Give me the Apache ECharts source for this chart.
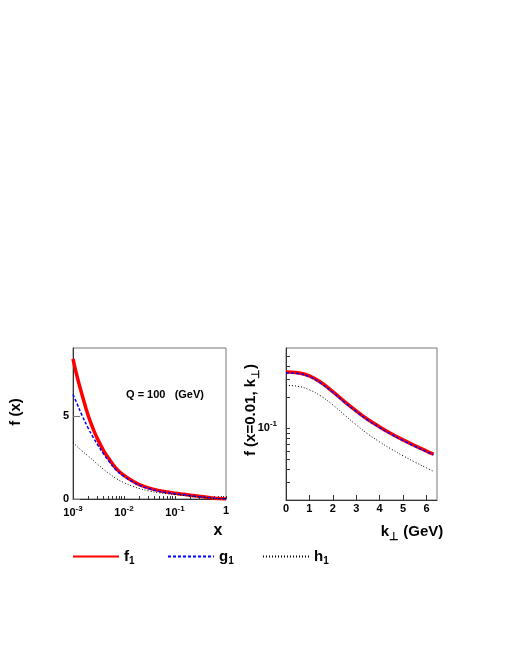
<!DOCTYPE html>
<html>
<head>
<meta charset="utf-8">
<script src="https://cdn.jsdelivr.net/npm/echarts@6/dist/echarts.min.js"></script>
<style>
  html, body { margin: 0; padding: 0; background: #fff; }
  #chart { width: 515px; height: 666px; }
</style>
</head>
<body>
<div id="chart"></div>
<script>
// left panel: f(x) at Q = 100 GeV, x on a log axis
const xValues = [0.001, 0.0012, 0.0015, 0.002, 0.0025, 0.003, 0.004, 0.005, 0.007, 0.01, 0.015, 0.02, 0.03, 0.05, 0.07, 0.1, 0.15, 0.2, 0.3, 0.5, 0.7, 1.0];
const f1x = [8.45, 7.4, 6.3, 5.0, 4.2, 3.65, 2.9, 2.45, 1.85, 1.42, 1.07, 0.87, 0.67, 0.5, 0.42, 0.35, 0.28, 0.23, 0.16, 0.08, 0.035, 0.0];
const g1x = [6.3, 5.75, 5.05, 4.25, 3.7, 3.3, 2.7, 2.3, 1.75, 1.36, 1.02, 0.83, 0.63, 0.46, 0.38, 0.32, 0.25, 0.2, 0.14, 0.07, 0.03, 0.0];
const h1x = [3.4, 3.17, 2.9, 2.58, 2.32, 2.1, 1.78, 1.55, 1.24, 0.98, 0.76, 0.63, 0.49, 0.37, 0.31, 0.26, 0.21, 0.17, 0.12, 0.06, 0.025, 0.0];

// right panel: f(x=0.01, kT) against kT in GeV
const ktValues = [0, 0.5, 1, 1.5, 2, 2.5, 3, 3.5, 4, 4.5, 5, 5.5, 6, 6.3];
const f1k = [0.35, 0.345, 0.322, 0.277, 0.226, 0.181, 0.147, 0.121, 0.1026, 0.0881, 0.0767, 0.0675, 0.0598, 0.0558];
const g1k = [0.344, 0.339, 0.316, 0.272, 0.222, 0.178, 0.1445, 0.119, 0.101, 0.0868, 0.0756, 0.0666, 0.059, 0.055];
const h1k = [0.26, 0.255, 0.2355, 0.204, 0.168, 0.134, 0.1074, 0.0877, 0.0733, 0.0624, 0.0537, 0.0468, 0.041, 0.038];

// ticks and tick labels
const leftXTicks = [0.001, 0.01, 0.1, 1];
const leftXTickLabels = ['10{sup|-3}', '10{sup|-2}', '10{sup|-1}', '1'];
const leftXMinor = [0.002, 0.003, 0.004, 0.005, 0.006, 0.007, 0.008, 0.009,
  0.02, 0.03, 0.04, 0.05, 0.06, 0.07, 0.08, 0.09,
  0.2, 0.3, 0.4, 0.5, 0.6, 0.7, 0.8, 0.9];
const leftYTicks = [0, 5];
const rightXTicks = [0, 1, 2, 3, 4, 5, 6];
const rightYTicks = [0.1];
const rightYTickLabels = ['10{sup|-1}'];
const rightYMinor = [0.03, 0.04, 0.05, 0.06, 0.07, 0.08, 0.09, 0.2, 0.3, 0.4, 0.5];

const legendNames = ['f1', 'g1', 'h1'];
const legendLabels = ['{m|f}{s|1}', '{m|g}{s|1}', '{m|h}{s|1}'];

const font = "'Liberation Sans', Arial, Helvetica, sans-serif";
const black = '#000';

const zip = (xs, ys) => xs.map((x, i) => [x, ys[i]]);
const sameLog = (a, b) => Math.abs(Math.log10(a) - Math.log10(b)) < 1e-6;

const labelRich = {
  sup: { fontSize: 8, fontWeight: 'bold', fontFamily: font, color: black, padding: [0, 0, 8, 0] }
};
const tickLabel = {
  color: black, fontSize: 11, fontWeight: 'bold', fontFamily: font, rich: labelRich
};
const frameLine = { show: true, lineStyle: { color: '#333', width: 1 } };

const line = (name, xs, ys, axis, color, width, dash) => ({
  name: name,
  type: 'line',
  xAxisIndex: axis,
  yAxisIndex: axis,
  data: zip(xs, ys),
  symbol: 'none',
  smooth: 0.4,
  silent: true,
  lineStyle: { color: color, width: width, type: dash },
  itemStyle: { color: color }
});

const legend = (i, left) => ({
  data: [legendNames[i]],
  left: left,
  top: 546,
  padding: 0,
  itemWidth: 46,
  itemHeight: 26,
  itemStyle: { opacity: 0 },
  selectedMode: false,
  formatter: () => legendLabels[i],
  textStyle: {
    rich: {
      m: { fontSize: 15, fontWeight: 'bold', fontFamily: font, color: black },
      s: { fontSize: 10, fontWeight: 'bold', fontFamily: font, color: black, padding: [10, 0, 0, 0] }
    }
  }
});

const chart = echarts.init(document.getElementById('chart'));

chart.setOption({
  animation: false,
  backgroundColor: '#fff',
  grid: [
    { left: 73, top: 348, width: 153, height: 151, show: true, borderColor: '#777', borderWidth: 1 },
    { left: 286, top: 348, width: 151, height: 152, show: true, borderColor: '#777', borderWidth: 1 }
  ],
  xAxis: [
    {
      type: 'log', gridIndex: 0, logBase: 10, min: 0.001, max: 1,
      axisLine: frameLine,
      axisTick: { show: true, inside: true, length: 3, customValues: leftXTicks.concat(leftXMinor), lineStyle: { color: '#333' } },
      axisLabel: Object.assign({}, tickLabel, {
        margin: 6,
        formatter: v => {
          const i = leftXTicks.findIndex(t => sameLog(t, v));
          return i < 0 ? '' : leftXTickLabels[i];
        }
      }),
      splitLine: { show: false }
    },
    {
      type: 'value', gridIndex: 1, min: 0, max: 6.45,
      axisLine: frameLine,
      axisTick: { show: true, inside: true, length: 5, customValues: rightXTicks, lineStyle: { color: '#333' } },
      axisLabel: Object.assign({}, tickLabel, { margin: 3, customValues: rightXTicks }),
      splitLine: { show: false }
    }
  ],
  yAxis: [
    {
      type: 'value', gridIndex: 0, min: 0, max: 9.1,
      axisLine: frameLine,
      axisTick: { show: true, inside: true, length: 7, customValues: leftYTicks, lineStyle: { color: '#777' } },
      axisLabel: Object.assign({}, tickLabel, { margin: 4, customValues: leftYTicks }),
      splitLine: { show: false }
    },
    {
      type: 'log', gridIndex: 1, logBase: 10, min: 0.02, max: 0.6,
      axisLine: frameLine,
      axisTick: { show: true, inside: true, length: 4, customValues: rightYTicks.concat(rightYMinor), lineStyle: { color: '#333' } },
      axisLabel: Object.assign({}, tickLabel, {
        margin: 9,
        formatter: v => {
          const i = rightYTicks.findIndex(t => sameLog(t, v));
          return i < 0 ? '' : rightYTickLabels[i];
        }
      }),
      splitLine: { show: false }
    }
  ],
  legend: [legend(0, 72), legend(1, 167), legend(2, 262)],
  graphic: [
    {
      type: 'text', x: 16, y: 412, rotation: Math.PI / 2, silent: true,
      style: { text: 'f (x)', font: 'bold 15px ' + font, fill: black, align: 'center', verticalAlign: 'middle' }
    },
    {
      type: 'text', x: 218, y: 531, silent: true,
      style: { text: 'x', font: 'bold 16px ' + font, fill: black, align: 'center', verticalAlign: 'middle' }
    },
    {
      type: 'text', x: 165, y: 395, silent: true,
      style: { text: 'Q = 100   (GeV)', font: 'bold 11px ' + font, fill: black, align: 'center', verticalAlign: 'middle' }
    },
    {
      type: 'text', x: 251, y: 410, rotation: Math.PI / 2, silent: true,
      style: {
        text: '{m|f (x=0.01, k}{s|⊥}{m|)}', fill: black, align: 'center', verticalAlign: 'middle',
        rich: {
          m: { fontSize: 15, fontWeight: 'bold', fontFamily: font, fill: black },
          s: { fontSize: 11, fontWeight: 'bold', fontFamily: font, fill: black, padding: [10, 0, 0, 0] }
        }
      }
    },
    {
      type: 'text', x: 412, y: 532, silent: true,
      style: {
        text: '{m|k}{s|⊥}{m| (GeV)}', fill: black, align: 'center', verticalAlign: 'middle',
        rich: {
          m: { fontSize: 15, fontWeight: 'bold', fontFamily: font, fill: black },
          s: { fontSize: 11, fontWeight: 'bold', fontFamily: font, fill: black, padding: [10, 0, 0, 0] }
        }
      }
    }
  ],
  series: [
    line('f1', xValues, f1x, 0, '#ff0000', 3.5, 'solid'),
    line('g1', xValues, g1x, 0, '#0000ff', 1.5, [3, 2]),
    line('h1', xValues, h1x, 0, '#000000', 1, [1, 2]),
    line('f1', ktValues, f1k, 1, '#ff0000', 3.5, 'solid'),
    line('g1', ktValues, g1k, 1, '#0000ff', 1.5, [3, 2]),
    line('h1', ktValues, h1k, 1, '#000000', 1, [1, 2])
  ]
});
</script>
</body>
</html>
